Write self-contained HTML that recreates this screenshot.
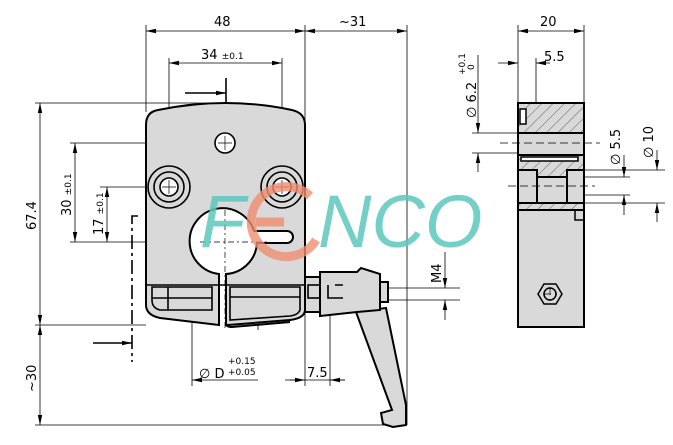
<!DOCTYPE html>
<html><head><meta charset="utf-8"><style>
html,body{margin:0;padding:0;background:#fff;}
svg{display:block;font-family:"DejaVu Sans","Liberation Sans",sans-serif;}
</style></head><body>
<svg width="673" height="445" viewBox="0 0 673 445" xmlns="http://www.w3.org/2000/svg">
<defs>
<marker id="a" markerWidth="10" markerHeight="6" refX="10" refY="3" orient="auto-start-reverse" markerUnits="userSpaceOnUse"><path d="M0,0.8 L10,3 L0,5.2z" fill="#000"/></marker>
<pattern id="h" width="8" height="8" patternUnits="userSpaceOnUse" patternTransform="rotate(45)"><line x1="0" y1="0" x2="0" y2="8" stroke="#333" stroke-width="0.7"/></pattern>
</defs>
<g stroke="#000" stroke-width="0.8" fill="none">
<!-- top dims -->
<line x1="146" y1="25" x2="146" y2="112"/><line x1="305" y1="25" x2="305" y2="275"/><line x1="407" y1="25" x2="407" y2="425"/>
<line x1="146" y1="31" x2="305" y2="31" marker-start="url(#a)" marker-end="url(#a)"/>
<line x1="305" y1="31" x2="407" y2="31" marker-start="url(#a)" marker-end="url(#a)"/>
<line x1="169" y1="58" x2="169" y2="170"/><line x1="282" y1="58" x2="282" y2="170"/>
<line x1="169" y1="63" x2="282" y2="63" marker-start="url(#a)" marker-end="url(#a)"/>
<!-- left dims -->
<line x1="35" y1="103" x2="228" y2="103"/>
<line x1="35" y1="325" x2="146" y2="325"/>
<line x1="35" y1="425" x2="407" y2="425"/>
<line x1="40" y1="103" x2="40" y2="325" marker-start="url(#a)" marker-end="url(#a)"/>
<line x1="40" y1="325" x2="40" y2="425" marker-start="url(#a)" marker-end="url(#a)"/>
<line x1="70" y1="143" x2="146" y2="143"/><line x1="70" y1="242" x2="146" y2="242"/>
<line x1="75" y1="143" x2="75" y2="242" marker-start="url(#a)" marker-end="url(#a)"/>
<line x1="100" y1="187" x2="146" y2="187"/>
<line x1="107" y1="187" x2="107" y2="242" marker-start="url(#a)" marker-end="url(#a)"/>
<!-- D dims -->
<line x1="192" y1="262" x2="192" y2="386"/><line x1="258" y1="262" x2="258" y2="330"/>
<line x1="192" y1="380" x2="258" y2="380" marker-start="url(#a)"/>
<line x1="285" y1="380" x2="345" y2="380"/>
<line x1="305" y1="300" x2="305" y2="386"/><line x1="330" y1="312" x2="330" y2="386"/>
<line x1="290" y1="380" x2="305" y2="380" marker-end="url(#a)"/>
<line x1="345" y1="380" x2="330" y2="380" marker-end="url(#a)"/>
<!-- M4 -->
<line x1="385" y1="288" x2="460" y2="288"/><line x1="385" y1="300" x2="460" y2="300"/>
<line x1="445" y1="252" x2="445" y2="288" marker-end="url(#a)"/>
<line x1="445" y1="320" x2="445" y2="300" marker-end="url(#a)"/>
</g>
<!-- centerline left -->
<path d="M138,216 H132 V362" stroke="#000" stroke-width="1.6" fill="none" stroke-dasharray="14,4,3,4"/>
<path d="M93,343 H132" stroke="#000" stroke-width="1.6" marker-end="url(#a)"/>
<path d="M185,93 H226" stroke="#000" stroke-width="1.6" marker-end="url(#a)"/>
<line x1="226" y1="78" x2="226" y2="103" stroke="#000" stroke-width="1.6"/>
<!-- body -->
<g stroke="#000" stroke-width="2" fill="#d9d9d9">
<path d="M146,125 Q146,112 158,110 Q226,96 292,110 Q305,113 305,125 V310 Q305,318 290,320 L228,325 H226 V273 H219 V325 L160,318 Q146,315 146,305 Z"/>
<path d="M226,325 Q228,327 232,327 L290,322" fill="none"/>
<rect x="305" y="277" width="15" height="35"/>
<path d="M356,312 L386,308 L406,405 L406,425 L393,427 L383,424 L381,413 L392,410 Z"/>
<path d="M320,272 H357 L361,268 L380,274 V310 L357,312 L320,316 Z"/>
<rect x="380" y="282" width="8" height="20"/>
</g>
<g stroke="#000" stroke-width="1.6" fill="none">
<path d="M335,285 H343 M335,298 H343 M328,285 V298 H335"/>
<rect x="308" y="285" width="12" height="13"/>
<circle cx="225" cy="143" r="10" fill="#fff"/>
<circle cx="169" cy="187" r="21"/><circle cx="169" cy="187" r="15"/><circle cx="169" cy="187" r="9" fill="#fff"/>
<circle cx="282" cy="187" r="21"/><circle cx="282" cy="187" r="15"/><circle cx="282" cy="187" r="9" fill="#fff"/>
<path d="M219,274 A33,33 0 1 1 254,231 H287 A6,6 0 0 1 287,243 H257 A33,33 0 0 1 226,274 Z" fill="#fff" stroke-width="2"/>
<rect x="220" y="273" width="5" height="52" fill="#fff" stroke="none"/>
<line x1="219" y1="273" x2="219" y2="325" stroke-width="2"/><line x1="226" y1="273" x2="226" y2="325" stroke-width="2"/>
<path d="M146,285 H305"/>
<path d="M152,287 H212 V310 H160 Q152,308 152,300 Z"/>
<path d="M152,298 H212 M168,287 V310"/>
<path d="M230,287 H300 V310 Q298,315 290,316 L230,320 Z"/>
<path d="M230,297 H300"/>
</g>
<g stroke="#000" stroke-width="0.7" fill="none">
<path d="M225,136 V150 M218,143 H232 M169,180 V194 M162,187 H176 M282,180 V194 M275,187 H289"/>
<path d="M225,210 V330 M200,242 H270" stroke-dasharray="6,3,2,3"/>
</g>
<!-- logo -->
<g opacity="0.8">
<path d="M310,196 A35,35 0 1 0 316,240" stroke="#ef8f70" stroke-width="9" fill="none"/>
<line x1="256" y1="222" x2="284" y2="222" stroke="#ef8f70" stroke-width="9"/>
</g>
<text x="200" y="247" font-family="Liberation Sans,sans-serif" font-size="74" font-style="italic" fill="#5cc8bd" opacity="0.85">F</text>
<text x="318" y="247" font-family="Liberation Sans,sans-serif" font-size="74" font-style="italic" fill="#5cc8bd" opacity="0.85">NCO</text>
<!-- right view -->
<g stroke="#000" stroke-width="0.8" fill="none">
<line x1="518" y1="25" x2="518" y2="103"/><line x1="584" y1="25" x2="584" y2="103"/>
<line x1="518" y1="31" x2="584" y2="31" marker-start="url(#a)" marker-end="url(#a)"/>
<line x1="536" y1="58" x2="536" y2="135"/>
<line x1="498" y1="63" x2="518" y2="63" marker-end="url(#a)"/>
<line x1="550" y1="63" x2="536" y2="63" marker-end="url(#a)"/>
<line x1="472" y1="133" x2="518" y2="133"/><line x1="472" y1="153" x2="518" y2="153"/>
<line x1="478" y1="55" x2="478" y2="133" marker-end="url(#a)"/>
<line x1="478" y1="172" x2="478" y2="153" marker-end="url(#a)"/>
<line x1="584" y1="170" x2="665" y2="170"/><line x1="584" y1="203" x2="665" y2="203"/>
<line x1="567" y1="177" x2="630" y2="177"/><line x1="567" y1="195" x2="630" y2="195"/>
<line x1="624" y1="155" x2="624" y2="177" marker-end="url(#a)"/>
<line x1="624" y1="215" x2="624" y2="195" marker-end="url(#a)"/>
<line x1="657" y1="150" x2="657" y2="170" marker-end="url(#a)"/>
<line x1="657" y1="222" x2="657" y2="203" marker-end="url(#a)"/>
</g>
<g stroke="#000" stroke-width="2">
<rect x="518" y="103" width="66" height="224" fill="#d9d9d9"/>
<rect x="518" y="103" width="66" height="30" fill="url(#h)"/>
<rect x="518" y="155" width="66" height="55" fill="url(#h)"/>
<rect x="518" y="133" width="66" height="22" fill="#d9d9d9"/>
<rect x="520" y="109" width="6" height="15" fill="#fff" stroke-width="1.5"/>
<rect x="521" y="157" width="57" height="4" fill="#fff" stroke-width="1.5"/>
<rect x="518" y="170" width="19" height="33" fill="#d9d9d9"/>
<rect x="567" y="170" width="17" height="33" fill="#d9d9d9"/>
<rect x="537" y="177" width="30" height="26" fill="#d9d9d9"/>
<path d="M575,210 V220 H584" fill="none" stroke-width="1.5"/>
<polygon points="538,294 544,284 556,284 562,294 556,304 544,304" fill="#d9d9d9" stroke-width="1.5"/>
<circle cx="550" cy="294" r="6" fill="#d9d9d9" stroke-width="1.5"/>
</g>
<g stroke="#000" stroke-width="0.7"><path d="M500,143 H600 M508,186 H595 M550,287 V301 M543,294 H557" stroke-dasharray="8,4"/></g>
<!-- text -->
<g font-size="13" fill="#000">
<text x="214" y="26">48</text>
<text x="339" y="26">~31</text>
<text x="201" y="59">34 <tspan font-size="9">±0.1</tspan></text>
<text x="540" y="26">20</text>
<text x="544" y="61">5.5</text>
<text x="307" y="377">7.5</text>
<text x="199" y="378">∅ D</text>
<text x="228" y="364" font-size="9">+0.15</text>
<text x="228" y="375" font-size="9">+0.05</text>
<text transform="translate(36,230) rotate(-90)">67.4</text>
<text transform="translate(36,392) rotate(-90)">~30</text>
<text transform="translate(71,216) rotate(-90)">30 <tspan font-size="9">±0.1</tspan></text>
<text transform="translate(103,235) rotate(-90)">17 <tspan font-size="9">±0.1</tspan></text>
<text transform="translate(441,283) rotate(-90)">M4</text>
<text transform="translate(476,118) rotate(-90)">∅ 6.2</text>
<text transform="translate(465,75) rotate(-90)" font-size="9">+0.1</text>
<text transform="translate(474,70) rotate(-90)" font-size="9">0</text>
<text transform="translate(620,165) rotate(-90)">∅ 5.5</text>
<text transform="translate(653,158) rotate(-90)">∅ 10</text>
</g>
</svg>
</body></html>
